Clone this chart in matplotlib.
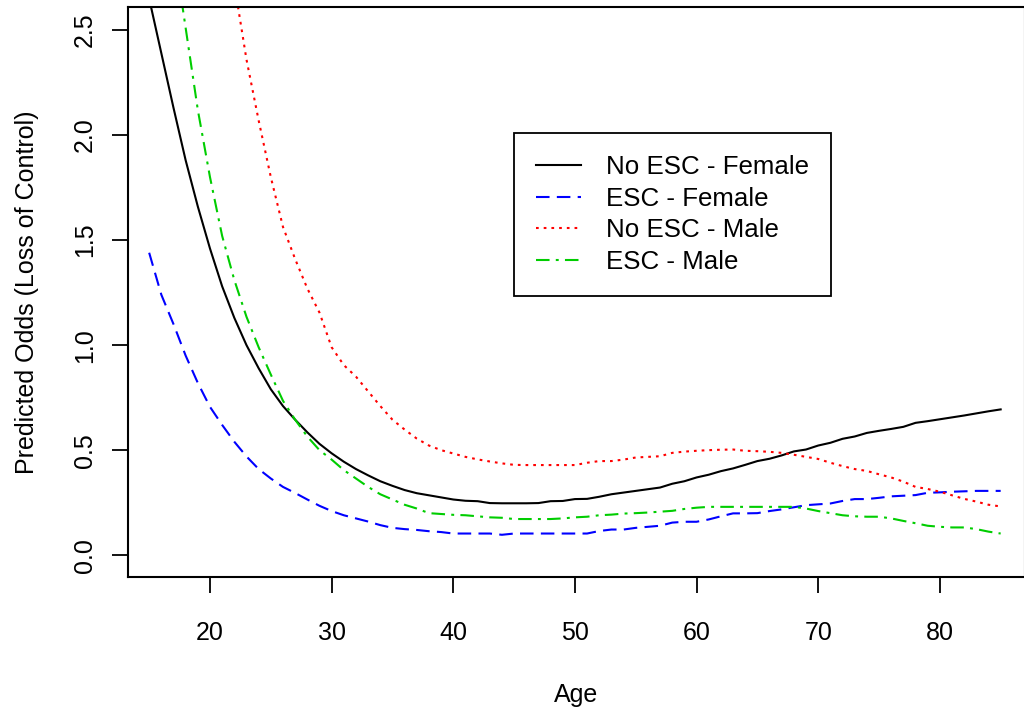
import numpy as np
import matplotlib
matplotlib.use('Agg')
import matplotlib.pyplot as plt

plt.rcParams['font.family'] = ['Liberation Sans', 'DejaVu Sans']

ages = list(range(15, 86))

noEscFemale = [2.65, 2.39, 2.13, 1.88, 1.66, 1.46, 1.28, 1.13, 1.00, 0.89,
               0.79, 0.71, 0.645, 0.585, 0.53, 0.485, 0.445, 0.41, 0.38, 0.352,
               0.33, 0.31, 0.295, 0.285, 0.275, 0.265, 0.259, 0.257, 0.248, 0.247,
               0.247, 0.247, 0.248, 0.257, 0.258, 0.267, 0.268, 0.278, 0.29, 0.298,
               0.306, 0.314, 0.322, 0.34, 0.352, 0.37, 0.383, 0.40, 0.413, 0.43,
               0.448, 0.459, 0.475, 0.494, 0.503, 0.522, 0.535, 0.554, 0.565, 0.582,
               0.592, 0.601, 0.611, 0.63, 0.638, 0.647, 0.656, 0.665, 0.675, 0.685,
               0.694]

escFemale = [1.44, 1.24, 1.10, 0.95, 0.82, 0.706, 0.62, 0.54, 0.47, 0.41,
             0.365, 0.325, 0.296, 0.265, 0.235, 0.21, 0.19, 0.175, 0.16, 0.143,
             0.13, 0.124, 0.12, 0.114, 0.11, 0.103, 0.103, 0.103, 0.103, 0.097,
             0.103, 0.103, 0.103, 0.103, 0.103, 0.103, 0.103, 0.115, 0.122, 0.122,
             0.13, 0.135, 0.14, 0.155, 0.159, 0.159, 0.17, 0.185, 0.199, 0.199,
             0.2, 0.21, 0.218, 0.228, 0.238, 0.242, 0.246, 0.258, 0.267, 0.267,
             0.273, 0.28, 0.283, 0.286, 0.297, 0.299, 0.302, 0.304, 0.306, 0.306,
             0.306]

noEscMale = [6.3, 5.6, 5.0, 4.45, 3.95, 3.5, 3.1, 2.72, 2.36, 2.07,
             1.80, 1.563, 1.41, 1.27, 1.155, 0.99, 0.905, 0.85, 0.78, 0.71,
             0.645, 0.598, 0.555, 0.522, 0.5, 0.484, 0.468, 0.456, 0.446, 0.437,
             0.43, 0.429, 0.429, 0.429, 0.429, 0.429, 0.44, 0.448, 0.448, 0.455,
             0.465, 0.468, 0.471, 0.487, 0.493, 0.497, 0.5, 0.502, 0.503, 0.497,
             0.495, 0.492, 0.487, 0.478, 0.468, 0.458, 0.44, 0.424, 0.41, 0.401,
             0.385, 0.37, 0.35, 0.325, 0.315, 0.302, 0.285, 0.268, 0.255, 0.24,
             0.232]

escMale = [3.7, 3.3, 2.9, 2.51, 2.12, 1.80, 1.52, 1.31, 1.135, 0.99,
           0.86, 0.735, 0.645, 0.565, 0.50, 0.455, 0.405, 0.365, 0.325, 0.29,
           0.265, 0.24, 0.222, 0.2, 0.196, 0.192, 0.19, 0.185, 0.18, 0.178,
           0.172, 0.172, 0.172, 0.172, 0.175, 0.18, 0.183, 0.19, 0.193, 0.198,
           0.2, 0.203, 0.207, 0.211, 0.22, 0.226, 0.23, 0.23, 0.23, 0.23,
           0.23, 0.23, 0.23, 0.23, 0.222, 0.21, 0.2, 0.19, 0.185, 0.183,
           0.183, 0.175, 0.163, 0.152, 0.14, 0.135, 0.132, 0.132, 0.124, 0.112,
           0.103]

xTicks = [20, 30, 40, 50, 60, 70, 80]
yTicks = [0.0, 0.5, 1.0, 1.5, 2.0, 2.5]


fig = plt.figure(figsize=(10.24, 7.09), dpi=100)
# axes box in pixels: left 128, right just off canvas, top 7, bottom 577
ax = fig.add_axes([128/1024, 1 - 577/709, 897/1024, 570/709])

lw = 1.5
ax.plot(ages, noEscFemale, color='black', lw=lw, label='No ESC - Female')
ax.plot(ages, escFemale, color='#0000FF', lw=lw, linestyle=(0, (6.5, 3.5)), label='ESC - Female')
ax.plot(ages, noEscMale, color='#FF0000', lw=lw, linestyle=(0, (1.3, 2.4)), label='No ESC - Male')
ax.plot(ages, escMale, color='#00CD00', lw=lw, linestyle=(0, (6.5, 3.0, 1.4, 3.0)), label='ESC - Male')

ax.set_xlim(13.26, 87.0)
ax.set_ylim(-0.104, 2.61)

ax.set_xticks(xTicks)
ax.set_yticks(yTicks)
ax.set_xticklabels([str(t) for t in xTicks])
ax.set_yticklabels(['%.1f' % t for t in yTicks], rotation=90, va='center')

ax.tick_params(axis='both', length=11.5, width=1.3, labelsize=18, color='black')
ax.tick_params(axis='x', pad=20)
ax.tick_params(axis='y', pad=11)

for s in ax.spines.values():
    s.set_linewidth(1.5)
    s.set_color('black')

ax.set_xlabel('Age', fontsize=18, va='center')
ax.xaxis.set_label_coords(0.5, (577 - 695) / 570)
ax.set_ylabel('Predicted Odds (Loss of Control)', fontsize=18, va='center')
ax.yaxis.set_label_coords((27 - 128) / 897, 0.5)

leg = ax.legend(loc='upper left', bbox_to_anchor=(514/1024, 1 - 133/709),
                bbox_transform=fig.transFigure, fontsize=18.6, frameon=True,
                fancybox=False, framealpha=1, edgecolor='black',
                borderaxespad=0, borderpad=0.85, labelspacing=0.3,
                handlelength=1.75, handletextpad=0.95)
leg.get_frame().set_linewidth(1.3)

fig.savefig('out.png', dpi=100)
